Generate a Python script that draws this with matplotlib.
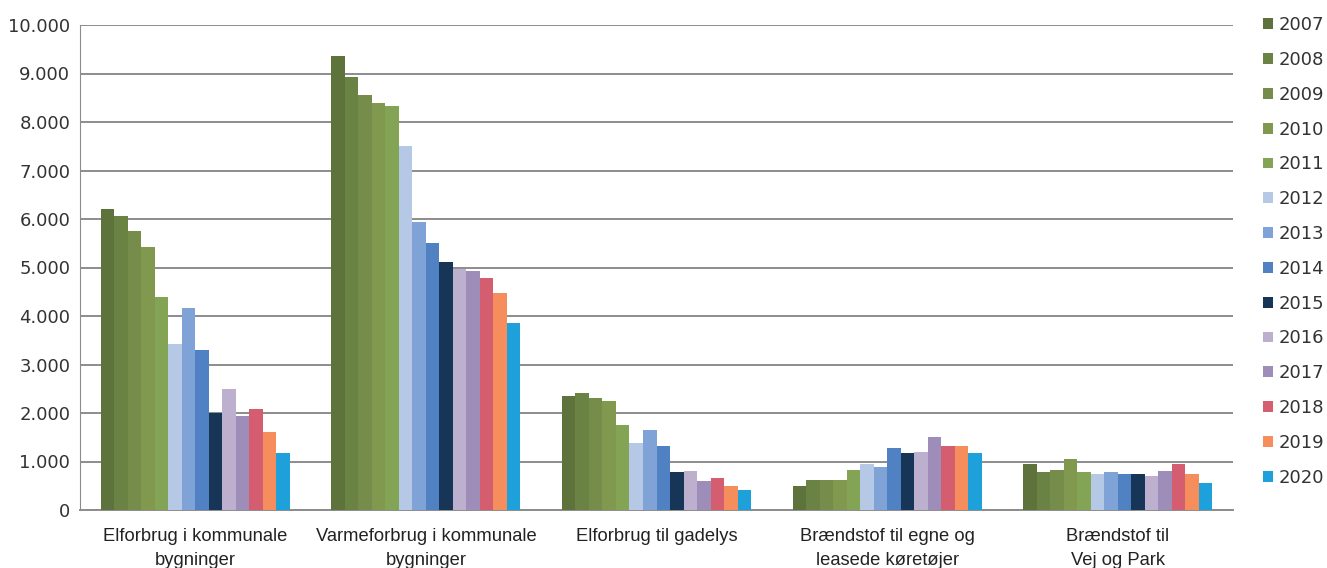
import matplotlib
matplotlib.use("Agg")
import matplotlib.pyplot as plt
import numpy as np
from matplotlib.ticker import FuncFormatter

categories = ["Elforbrug i kommunale\nbygninger",
              "Varmeforbrug i kommunale\nbygninger",
              "Elforbrug til gadelys",
              "Brændstof til egne og\nleasede køretøjer",
              "Brændstof til\nVej og Park"]
years = ["2007", "2008", "2009", "2010", "2011", "2012", "2013",
         "2014", "2015", "2016", "2017", "2018", "2019", "2020"]

elforbrug_bygninger = [6215, 6070, 5760, 5430, 4395, 3420, 4165, 3300, 1995, 2490, 1935, 2080, 1600, 1170]
varmeforbrug_bygninger = [9360, 8925, 8550, 8385, 8325, 7515, 5945, 5510, 5120, 4975, 4935, 4790, 4480, 3860]
elforbrug_gadelys = [2355, 2410, 2305, 2245, 1750, 1375, 1645, 1315, 775, 795, 590, 670, 505, 405]
braendstof_koeretoejer = [505, 610, 610, 610, 835, 940, 880, 1270, 1170, 1190, 1500, 1315, 1315, 1170]
braendstof_vej_park = [940, 775, 835, 1045, 775, 735, 775, 735, 735, 695, 795, 940, 735, 550]

colors = ["#5E733B", "#6A8244", "#768C4A", "#80994F", "#84A455", "#B5C9E6", "#7FA3D6",
          "#4F81C3", "#173556", "#BDB0CF", "#9E8CB9", "#D45D6F", "#F68D5C", "#1EA0DB"]

data = np.array([elforbrug_bygninger, varmeforbrug_bygninger, elforbrug_gadelys,
                 braendstof_koeretoejer, braendstof_vej_park])

fig = plt.figure(figsize=(13.27, 5.68), dpi=100)
ax = fig.add_axes([80/1327, 58/568, 1153/1327, 485/568])

n = len(years)
group_w = 0.82
bw = group_w / n
x = np.arange(len(categories))
for i, y in enumerate(years):
    ax.bar(x - group_w/2 + bw*(i+0.5), data[:, i], width=bw, color=colors[i],
           label=y, zorder=3, linewidth=0)

ax.set_xlim(-0.5, len(categories) - 0.5)
ax.set_ylim(0, 10000)
ax.set_yticks(np.arange(0, 10001, 1000))
ax.yaxis.set_major_formatter(FuncFormatter(lambda v, p: f"{int(v):,}".replace(",", ".")))
ax.grid(axis="y", color="#8c8c8c", linewidth=1.4, zorder=0)
ax.set_axisbelow(True)

for s in ["top", "right"]:
    ax.spines[s].set_visible(False)
ax.spines["left"].set_color("#8c8c8c")
ax.spines["bottom"].set_color("#8c8c8c")
ax.spines["bottom"].set_linewidth(1.4)
ax.tick_params(axis="y", length=0, pad=7, labelsize=13, labelcolor="#333333")
ax.tick_params(axis="x", length=0, pad=13, labelcolor="#222222")
ax.set_xticks(x)
ax.set_xticklabels(categories, fontsize=13.2,
                   fontfamily=["Liberation Sans", "DejaVu Sans"], linespacing=1.5)

leg = ax.legend(loc="upper left", bbox_to_anchor=(1183/1153, 1.018), frameon=False,
                fontsize=13, handlelength=0.55, handleheight=0.55, handletextpad=0.3,
                labelspacing=0.93, borderaxespad=0, borderpad=0)
for t in leg.get_texts():
    t.set_color("#333333")

fig.savefig("out.png", dpi=100)
